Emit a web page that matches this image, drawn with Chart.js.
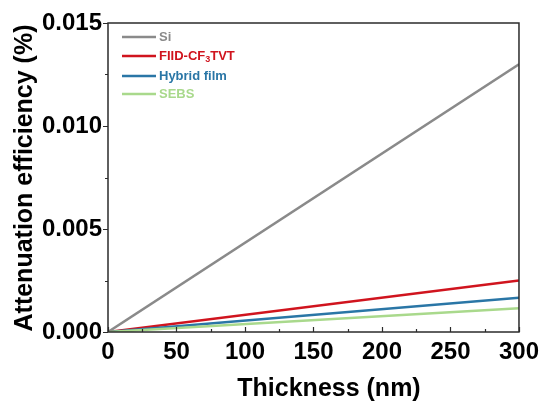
<!DOCTYPE html>
<html>
<head>
<meta charset="utf-8">
<script src="https://cdn.jsdelivr.net/npm/chart.js@4/dist/chart.umd.min.js"></script>
<style>
  body { margin: 0; background: #fff; }
  #wrap { width: 545px; height: 403px; }
</style>
</head>
<body>
<div id="wrap"><canvas id="chart"></canvas></div>
<script>
// Film thickness (nm) vs attenuation efficiency (%)
const thickness = [0, 300];
const siValues = [0, 0.0130];
const fiidValues = [0, 0.0025];
const hybridValues = [0, 0.00166];
const sebsValues = [0, 0.00115];

const seriesNames = ['Si', 'FIID-CF<sub>3</sub>TVT', 'Hybrid film', 'SEBS'];
const seriesColors = ['#8a8a8a', '#d0141e', '#2a76a6', '#a9d98c'];

const xTicks = [0, 50, 100, 150, 200, 250, 300];
const yTicks = [0, 0.005, 0.010, 0.015];

const FONT = '"Liberation Sans", Arial, sans-serif';

function toPoints(values) {
    return thickness.map((x, i) => ({ x: x, y: values[i] }));
}

// Box around the plot + inward x ticks, outward y ticks (with minors)
const framePlugin = {
    id: 'frame',
    afterDatasetsDraw(chart) {
        const { ctx, chartArea: a, scales: { x, y } } = chart;
        ctx.save();
        ctx.strokeStyle = '#2b2b2b';
        ctx.lineWidth = 1.5;
        ctx.strokeRect(a.left, a.top, a.right - a.left, a.bottom - a.top);

        ctx.lineWidth = 1.2;
        ctx.beginPath();
        for (let v = 0; v <= 300; v += 25) {
            const px = Math.round(x.getPixelForValue(v)) + 0.5;
            const len = v % 50 === 0 ? 5 : 3;
            ctx.moveTo(px, a.bottom);
            ctx.lineTo(px, a.bottom - len);
        }
        for (let i = 0; i <= 6; i++) {
            const v = i * 0.0025;
            const py = Math.round(y.getPixelForValue(v)) + 0.5;
            const len = i % 2 === 0 ? 5 : 3;
            ctx.moveTo(a.left, py);
            ctx.lineTo(a.left - len, py);
        }
        ctx.stroke();
        ctx.restore();
    }
};

// Axis titles
const titlesPlugin = {
    id: 'axisTitles',
    afterDraw(chart) {
        const ctx = chart.ctx;
        ctx.save();
        ctx.fillStyle = '#000';
        ctx.font = 'bold 25px ' + FONT;
        ctx.textAlign = 'center';
        ctx.textBaseline = 'middle';
        ctx.fillText('Thickness (nm)', 329, 389);
        ctx.translate(25, 178);
        ctx.rotate(-Math.PI / 2);
        ctx.fillText('Attenuation efficiency (%)', 0, 0);
        ctx.restore();
    }
};

// Legend with coloured labels and subscript support
const legendPlugin = {
    id: 'subLegend',
    afterDraw(chart) {
        const ctx = chart.ctx;
        const rows = [37, 56, 76, 94];
        ctx.save();
        ctx.textBaseline = 'middle';
        ctx.textAlign = 'left';
        seriesNames.forEach((name, i) => {
            const yy = rows[i];
            ctx.strokeStyle = seriesColors[i];
            ctx.lineWidth = 2.5;
            ctx.beginPath();
            ctx.moveTo(122, yy);
            ctx.lineTo(156, yy);
            ctx.stroke();

            ctx.fillStyle = seriesColors[i];
            let tx = 159;
            name.split(/(<sub>.*?<\/sub>)/).forEach(part => {
                if (!part) return;
                const m = part.match(/^<sub>(.*)<\/sub>$/);
                if (m) {
                    ctx.font = 'bold 9px ' + FONT;
                    ctx.fillText(m[1], tx, yy + 4);
                    tx += ctx.measureText(m[1]).width;
                } else {
                    ctx.font = 'bold 13px ' + FONT;
                    ctx.fillText(part, tx, yy);
                    tx += ctx.measureText(part).width;
                }
            });
        });
        ctx.restore();
    }
};

const dataSets = [siValues, fiidValues, hybridValues, sebsValues];

new Chart(document.getElementById('chart'), {
    type: 'line',
    data: {
        datasets: dataSets.map((vals, i) => ({
            label: seriesNames[i],
            data: toPoints(vals),
            borderColor: seriesColors[i],
            borderWidth: 2.5,
            pointRadius: 0,
            tension: 0
        })).reverse()
    },
    options: {
        responsive: true,
        maintainAspectRatio: false,
        animation: false,
        devicePixelRatio: 1,
        layout: { padding: { top: 23, right: 25, left: 0, bottom: 0 } },
        plugins: {
            legend: { display: false },
            tooltip: { enabled: false }
        },
        scales: {
            x: {
                type: 'linear',
                min: 0,
                max: 300,
                afterFit: s => { s.height = 71; },
                afterBuildTicks: s => { s.ticks = xTicks.map(v => ({ value: v })); },
                grid: { display: false, drawTicks: false },
                border: { display: false },
                ticks: {
                    color: '#000',
                    padding: 6,
                    maxRotation: 0,
                    font: { family: FONT, size: 24, weight: 'bold' }
                }
            },
            y: {
                min: 0,
                max: 0.015,
                afterFit: s => { s.width = 108; },
                afterBuildTicks: s => { s.ticks = yTicks.map(v => ({ value: v })); },
                grid: { display: false, drawTicks: false },
                border: { display: false },
                ticks: {
                    color: '#000',
                    padding: 6,
                    font: { family: FONT, size: 24, weight: 'bold' },
                    callback: v => v.toFixed(3)
                }
            }
        }
    },
    plugins: [framePlugin, titlesPlugin, legendPlugin]
});
</script>
</body>
</html>
